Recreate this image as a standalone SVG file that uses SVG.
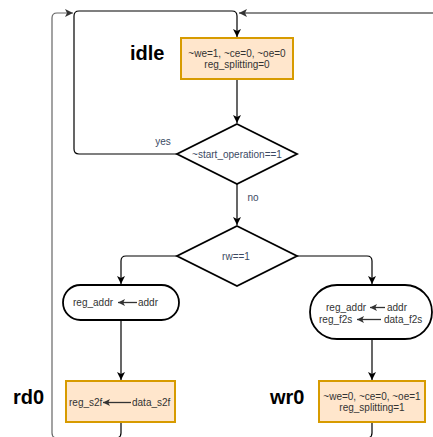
<svg xmlns="http://www.w3.org/2000/svg" width="433" height="437" viewBox="0 0 433 437">
  <style>
    .edge { fill: none; stroke: #000; stroke-width: 1.2; }
    .state { fill: #ffe6cc; stroke: #d79b00; stroke-width: 2; }
    .shape { fill: #fff; stroke: #000; stroke-width: 1.8; }
    .t { font-family: "Liberation Sans", Arial, sans-serif; font-size: 10px; fill: #333; }
    .c { text-anchor: middle; }
    .lbl { font-family: "Liberation Sans", Arial, sans-serif; font-size: 10px; fill: #3b4a63; text-anchor: middle; }
    .name { font-family: "Liberation Sans", Arial, sans-serif; font-size: 20px; font-weight: bold; fill: #000; }
    .assign { fill: none; stroke: #333; stroke-width: 1.3; }
  </style>
  <defs>
    <marker id="arrow" viewBox="0 0 8 8" refX="8" refY="4" markerWidth="8" markerHeight="8" orient="auto" markerUnits="userSpaceOnUse">
      <path d="M0,0 L8,4 L0,8 L2,4 Z" fill="#000"/>
    </marker>
    <marker id="arrowGray" viewBox="0 0 8 8" refX="8" refY="4" markerWidth="8" markerHeight="8" orient="auto" markerUnits="userSpaceOnUse">
      <path d="M0,0 L8,4 L0,8 L2,4 Z" fill="#333"/>
    </marker>
    <marker id="small" viewBox="0 0 8 8" refX="8" refY="4" markerWidth="7" markerHeight="7" orient="auto" markerUnits="userSpaceOnUse">
      <path d="M0,0 L8,4 L0,8 L2,4 Z" fill="#333"/>
    </marker>
  </defs>

  <!-- transitions -->
  <g id="connectors">
    <!-- yes: back to idle -->
    <path class="edge" d="M177,154 H79 Q74,154 74,149 V16 Q74,11 79,11 H232 Q237,11 237,16 V37" marker-end="url(#arrow)"/>
    <!-- incoming return from the right -->
    <path d="M433,13 H239" fill="none" stroke="#8a8a8a" stroke-width="2" marker-end="url(#arrowGray)"/>
    <!-- outer return loop on the left -->
    <path d="M62,438 H57 Q52,438 52,433 V18 Q52,13 57,13 H73" fill="none" stroke="#666" stroke-width="1.2" marker-end="url(#arrowGray)"/>
    <!-- idle -> start check -->
    <path class="edge" d="M237,79 V123" marker-end="url(#arrow)"/>
    <!-- no -> rw check -->
    <path class="edge" d="M237,184 V225" marker-end="url(#arrow)"/>
    <!-- rw branches -->
    <path class="edge" d="M177,256 H126 Q121,256 121,261 V284" marker-end="url(#arrow)"/>
    <path class="edge" d="M297,256 H367 Q372,256 372,261 V284" marker-end="url(#arrow)"/>
    <!-- into rd0 / wr0 -->
    <path class="edge" d="M121,320 V380" marker-end="url(#arrow)"/>
    <path class="edge" d="M372,339 V380" marker-end="url(#arrow)"/>
    <!-- exits from rd0 / wr0 -->
    <path class="edge" d="M121,422 V433 Q121,438 116,438"/>
    <path class="edge" d="M372,422 V433 Q372,438 367,438"/>
    <!-- labels -->
    <text class="lbl" x="163" y="144.5">yes</text>
    <text class="lbl" x="253" y="200.5">no</text>
  </g>

  <!-- idle state -->
  <g id="idle">
    <text class="name" x="130" y="60">idle</text>
    <rect class="state" x="181" y="38" width="112" height="41"/>
    <text class="t c" x="237" y="56.8">~we=1, ~ce=0, ~oe=0</text>
    <text class="t c" x="237" y="67.5">reg_splitting=0</text>
  </g>

  <!-- decision: start operation -->
  <g id="start_check">
    <polygon class="shape" points="237,124 297,154 237,184 177,154"/>
    <text class="lbl" x="237" y="157.5">~start_operation==1</text>
  </g>

  <!-- decision: read / write -->
  <g id="rw_check">
    <polygon class="shape" points="237,226 297,256 237,286 177,256"/>
    <text class="lbl" x="236" y="259.5">rw==1</text>
  </g>

  <!-- read address latch -->
  <g id="read_addr">
    <rect class="shape" x="63" y="285" width="116" height="35" rx="17.5" ry="17.5"/>
    <text class="t" x="73" y="306">reg_addr</text>
    <path class="assign" d="M137,302.5 H118" marker-end="url(#small)"/>
    <text class="t" x="138" y="306">addr</text>
  </g>

  <!-- write address/data latch -->
  <g id="write_latch">
    <rect class="shape" x="310" y="285" width="122" height="54" rx="27" ry="27"/>
    <text class="t" x="326" y="311">reg_addr</text>
    <path class="assign" d="M385,307.5 H370" marker-end="url(#small)"/>
    <text class="t" x="387" y="311">addr</text>
    <text class="t" x="319" y="323">reg_f2s</text>
    <path class="assign" d="M381,319.5 H357" marker-end="url(#small)"/>
    <text class="t" x="384" y="323">data_f2s</text>
  </g>

  <!-- rd0 state -->
  <g id="rd0">
    <text class="name" x="13" y="404">rd0</text>
    <rect class="state" x="66" y="381" width="109" height="41"/>
    <text class="t" x="69" y="406">reg_s2f</text>
    <path class="assign" d="M131,402.5 H103" marker-end="url(#small)"/>
    <text class="t" x="132" y="406">data_s2f</text>
  </g>

  <!-- wr0 state -->
  <g id="wr0">
    <text class="name" x="270" y="404">wr0</text>
    <rect class="state" x="319" y="381" width="106" height="41"/>
    <text class="t c" x="372" y="400">~we=0, ~ce=0, ~oe=1</text>
    <text class="t c" x="372" y="410.5">reg_splitting=1</text>
  </g>
</svg>
